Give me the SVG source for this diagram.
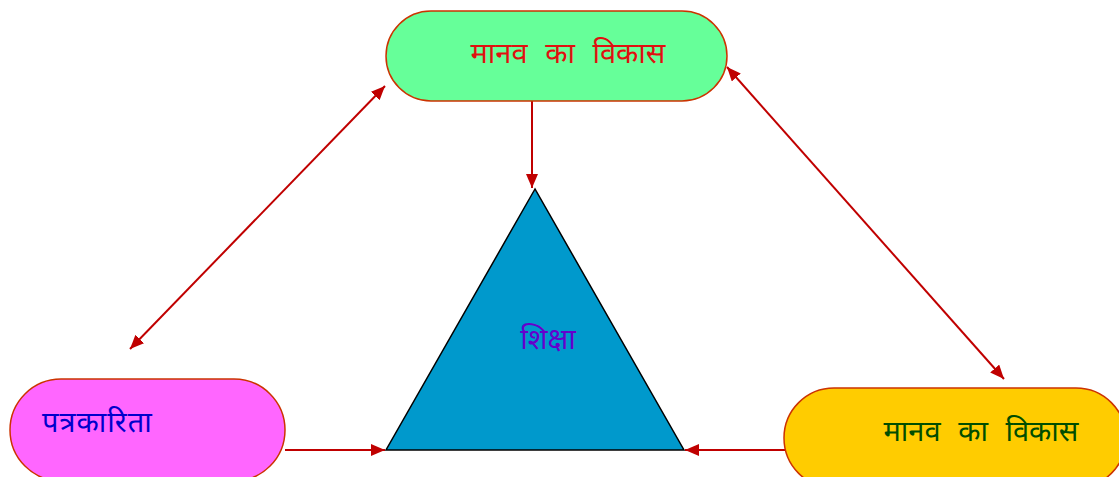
<svg xmlns="http://www.w3.org/2000/svg" width="1119" height="477" viewBox="0 0 1119 477">
<defs>
<marker id="ah" viewBox="0 0 14 12" refX="14" refY="6" markerWidth="14" markerHeight="12" markerUnits="userSpaceOnUse" orient="auto-start-reverse">
<path d="M0,0 L14,6 L0,12 Z" fill="#c00000"/>
</marker>
<style>
.pill{stroke:#cc3300;stroke-width:1.5}
.lbl{font-family:"Noto Sans","Liberation Sans",sans-serif;font-size:29px;word-spacing:10px}
.con{stroke:#c00000;stroke-width:2;fill:none}
</style>
</defs>
<rect width="1119" height="477" fill="#ffffff"/>
<g id="connectors">
<line class="con" x1="532" y1="101" x2="532" y2="188" marker-end="url(#ah)"/>
<line class="con" x1="130" y1="349" x2="385" y2="86" marker-start="url(#ah)" marker-end="url(#ah)"/>
<line class="con" x1="727" y1="67" x2="1004" y2="379" marker-start="url(#ah)" marker-end="url(#ah)"/>
<line class="con" x1="285" y1="450" x2="385" y2="450" marker-end="url(#ah)"/>
<line class="con" x1="785" y1="450" x2="685" y2="450" marker-end="url(#ah)"/>
</g>
<g id="node-top">
<rect class="pill" x="386" y="11" width="341" height="90" rx="45" ry="45" fill="#66ff99"/>
<text class="lbl" x="568" y="63" text-anchor="middle" fill="#e01010">मानव का विकास</text>
</g>
<g id="node-center">
<polygon points="535,189 386,450 684,450" fill="#0099cc" stroke="#000000" stroke-width="1.5"/>
<text class="lbl" x="548" y="349" text-anchor="middle" fill="#6600cc">शिक्षा</text>
</g>
<g id="node-left">
<rect class="pill" x="10" y="379" width="275" height="102" rx="51" ry="51" fill="#ff66ff"/>
<text class="lbl" x="42" y="432" fill="#0000cc" letter-spacing="1">पत्रकारिता</text>
</g>
<g id="node-right">
<rect class="pill" x="784" y="388" width="342" height="100" rx="50" ry="50" fill="#ffcc00"/>
<text class="lbl" x="981" y="441" text-anchor="middle" fill="#004d00">मानव का विकास</text>
</g>
</svg>
